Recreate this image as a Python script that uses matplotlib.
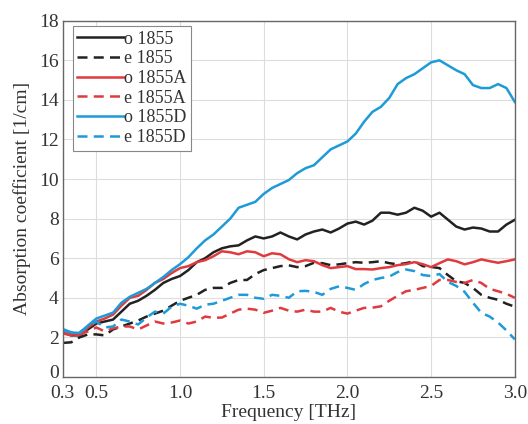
import numpy as np
import matplotlib
matplotlib.use('Agg')
from matplotlib import pyplot as plt
from matplotlib.transforms import ScaledTranslation

# frequency grid [THz]
freq = [0.30, 0.35, 0.40, 0.45, 0.50, 0.55, 0.60, 0.65, 0.70, 0.75,
        0.80, 0.85, 0.90, 0.95, 1.00, 1.05, 1.10, 1.15, 1.20, 1.25,
        1.30, 1.35, 1.40, 1.45, 1.50, 1.55, 1.60, 1.65, 1.70, 1.75,
        1.80, 1.85, 1.90, 1.95, 2.00, 2.05, 2.10, 2.15, 2.20, 2.25,
        2.30, 2.35, 2.40, 2.45, 2.50, 2.55, 2.60, 2.65, 2.70, 2.75,
        2.80, 2.85, 2.90, 2.95, 3.00]

o_1855 = [2.25, 2.1, 2.1, 2.4, 2.7, 2.8, 2.9, 3.3, 3.7, 3.85,
          4.1, 4.4, 4.75, 4.95, 5.1, 5.4, 5.8, 6.0, 6.3, 6.5,
          6.6, 6.65, 6.9, 7.1, 7.0, 7.1, 7.3, 7.1, 6.95, 7.2,
          7.35, 7.45, 7.3, 7.5, 7.75, 7.85, 7.7, 7.9, 8.3, 8.3,
          8.2, 8.3, 8.55, 8.4, 8.1, 8.3, 7.95, 7.6, 7.45, 7.55,
          7.5, 7.35, 7.35, 7.7, 7.94]
e_1855 = [1.72, 1.75, 2.0, 2.15, 2.15, 2.1, 2.4, 2.55, 2.7, 2.85,
          3.05, 3.2, 3.35, 3.6, 3.85, 4.0, 4.15, 4.4, 4.5, 4.5,
          4.75, 4.9, 4.9, 5.2, 5.4, 5.5, 5.6, 5.64, 5.55, 5.6,
          5.77, 5.75, 5.65, 5.69, 5.75, 5.8, 5.77, 5.8, 5.85, 5.75,
          5.69, 5.75, 5.85, 5.6, 5.56, 5.5, 5.15, 4.84, 4.75, 4.5,
          4.15, 4.0, 3.9, 3.7, 3.55]
o_1855A = [2.3, 2.15, 2.12, 2.5, 2.8, 2.95, 3.15, 3.6, 4.0, 4.1,
           4.4, 4.75, 4.95, 5.25, 5.5, 5.6, 5.8, 5.9, 6.1, 6.35,
           6.3, 6.2, 6.35, 6.3, 6.1, 6.25, 6.2, 5.95, 5.8, 5.9,
           5.85, 5.65, 5.5, 5.55, 5.6, 5.45, 5.45, 5.43, 5.5, 5.55,
           5.65, 5.7, 5.8, 5.7, 5.55, 5.75, 5.94, 5.85, 5.69, 5.8,
           5.94, 5.85, 5.77, 5.85, 5.94]
e_1855A = [2.2, 2.1, 2.15, 2.3, 2.5, 2.3, 2.45, 2.55, 2.55, 2.4,
           2.6, 2.8, 2.7, 2.75, 2.85, 2.7, 2.8, 3.05, 2.99, 3.0,
           3.2, 3.4, 3.45, 3.4, 3.24, 3.35, 3.49, 3.35, 3.3, 3.4,
           3.3, 3.3, 3.49, 3.3, 3.2, 3.35, 3.49, 3.5, 3.57, 3.85,
           4.1, 4.33, 4.4, 4.5, 4.6, 4.9, 4.9, 4.8, 4.75, 4.9,
           4.75, 4.45, 4.33, 4.2, 4.0]
o_1855D = [2.42, 2.25, 2.22, 2.6, 2.95, 3.1, 3.25, 3.75, 4.05, 4.25,
           4.45, 4.75, 5.05, 5.4, 5.7, 6.05, 6.5, 6.9, 7.2, 7.6,
           8.0, 8.55, 8.7, 8.85, 9.25, 9.55, 9.75, 9.95, 10.3, 10.55,
           10.7, 11.1, 11.5, 11.7, 11.9, 12.3, 12.9, 13.4, 13.65, 14.1,
           14.8, 15.1, 15.3, 15.6, 15.9, 16.0, 15.75, 15.5, 15.3, 14.75,
           14.6, 14.6, 14.8, 14.6, 13.9]
e_1855D = [2.35, 2.25, 2.25, 2.55, 2.8, 2.5, 2.55, 2.9, 2.8, 2.65,
           3.0, 3.3, 3.2, 3.55, 3.7, 3.6, 3.45, 3.65, 3.7, 3.85,
           4.0, 4.15, 4.15, 4.0, 3.95, 4.15, 4.1, 4.0, 4.33, 4.35,
           4.3, 4.15, 4.45, 4.58, 4.5, 4.4, 4.7, 4.9, 5.0, 5.07,
           5.3, 5.43, 5.35, 5.15, 5.1, 5.2, 4.8, 4.6, 4.3, 3.75,
           3.24, 3.05, 2.75, 2.35, 1.9]

xticks = [0.3, 0.5, 1.0, 1.5, 2.0, 2.5, 3.0]
xticklabels = ['0.3', '0.5', '1.0', '1.5', '2.0', '2.5', '3.0']
yticks = [0, 2, 4, 6, 8, 10, 12, 14, 16, 18]

plt.rcParams['font.family'] = ['Liberation Serif', 'DejaVu Serif']

black = '#222222'
red = '#e03a3e'
blue = '#1f9ad8'

fig = plt.figure(figsize=(5.28, 4.24), dpi=100)
ax = fig.add_axes([0.119, 0.111, 0.856, 0.840])

series = [(o_1855, black, '-', 'o 1855'), (e_1855, black, '--', 'e 1855'),
          (o_1855A, red, '-', 'o 1855A'), (e_1855A, red, '--', 'e 1855A'),
          (o_1855D, blue, '-', 'o 1855D'), (e_1855D, blue, '--', 'e 1855D')]
for vals, c, ls, lab in series:
    ax.plot(freq, vals, color=c, ls=ls, lw=1.8, label=lab, dashes=(4, 2.5) if ls == '--' else (None, None))

ax.set_xlim(0.3, 3.0)
ax.set_ylim(0, 18)
ax.set_xticks(xticks)
ax.set_xticklabels(xticklabels)
ax.set_yticks(yticks)
ax.tick_params(length=0, labelsize=14, colors='#333333')
ax.tick_params(axis='x', pad=6)
ax.tick_params(axis='y', pad=3)
ax.grid(True, color='#dddddd', lw=0.8)
ax.set_axisbelow(True)
for s in ax.spines.values():
    s.set_color('#666666')
    s.set_linewidth(1.0)

# lift the "0" a bit so it sits clear of "0.3", as in the original
lbl0 = ax.get_yticklabels()[0]
lbl0.set_transform(lbl0.get_transform() + ScaledTranslation(0, 4 / 72, fig.dpi_scale_trans))

ax.set_xlabel('Frequency [THz]', fontsize=14, labelpad=1, color='#333333')
ax.set_ylabel('Absorption coefficient [1/cm]', fontsize=14, labelpad=6, color='#333333')

leg = ax.legend(loc='upper left', bbox_to_anchor=(0.022, 0.985), fontsize=13,
                handlelength=2.6, handletextpad=0.0, labelspacing=0.15,
                borderpad=0.25, borderaxespad=0.0, fancybox=False,
                framealpha=1, edgecolor='#888888')
leg.get_frame().set_linewidth(0.8)
for t in leg.get_texts():
    t.set_color('#333333')

fig.savefig('out.png', dpi=100)
